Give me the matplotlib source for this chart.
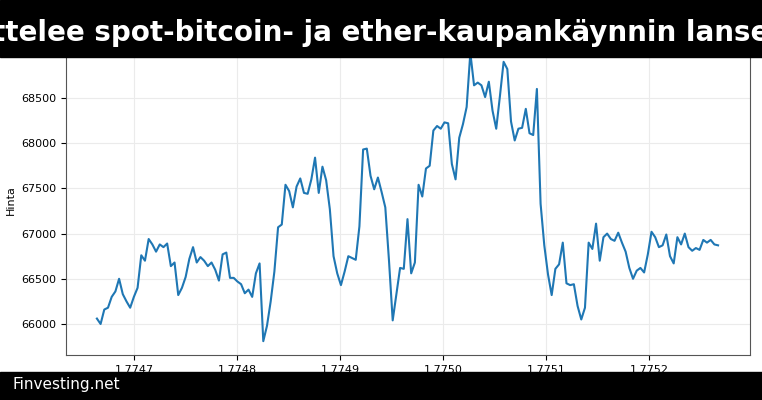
import matplotlib
matplotlib.use("Agg")
import matplotlib.pyplot as plt
import numpy as np

title = "ttelee spot-bitcoin- ja ether-kaupankäynnin lanse"
source = "Finvesting.net"
ylabel = "Hinta"
t_start, t_end = 1.774664, 1.775267
prices = [66060, 66000, 66160, 66180, 66300, 66360, 66500, 66330, 66250, 66180, 66300, 66400, 66760, 66700,
          66940, 66880, 66800, 66880, 66850, 66890, 66640, 66680, 66320, 66400, 66520, 66720, 66850, 66680,
          66740, 66700, 66640, 66680, 66600, 66480, 66770, 66790, 66510, 66510, 66470, 66440, 66340, 66380,
          66300, 66560, 66670, 65810, 65980, 66250, 66580, 67070, 67100, 67540, 67470, 67290, 67520, 67610,
          67450, 67440, 67600, 67840, 67450, 67740, 67590, 67270, 66750, 66560, 66430, 66580, 66750, 66730,
          66710, 67080, 67930, 67940, 67640, 67490, 67620, 67460, 67290, 66700, 66040, 66330, 66620, 66610,
          67160, 66560, 66680, 67540, 67410, 67720, 67750, 68140, 68190, 68160, 68230, 68220, 67770, 67600,
          68060, 68210, 68400, 69000, 68640, 68670, 68640, 68510, 68680, 68360, 68160, 68520, 68900, 68820,
          68240, 68030, 68160, 68170, 68380, 68110, 68090, 68600, 67330, 66870, 66550, 66320, 66610, 66660,
          66900, 66450, 66430, 66440, 66200, 66050, 66180, 66900, 66830, 67110, 66700, 66960, 67000, 66940,
          66920, 67010, 66900, 66800, 66620, 66500, 66590, 66620, 66570, 66770, 67020, 66960, 66850, 66870,
          66990, 66750, 66670, 66960, 66880, 67000, 66850, 66810, 66840, 66820, 66930, 66900, 66930, 66880,
          66870]
times = np.linspace(t_start, t_end, len(prices))

fig = plt.figure(figsize=(7.62, 4.0), dpi=100)
ax = fig.add_axes([66/762, 45/400, (750-66)/762, (355-45)/400])
ax.plot(times, prices, color="#1f77b4", lw=1.5)
ax.set_ylim(65657, 69086)
ax.set_xlim(1.774634, 1.775298)
ax.set_xticks([1.7747, 1.7748, 1.7749, 1.7750, 1.7751, 1.7752])
ax.set_xticklabels(["1.7747", "1.7748", "1.7749", "1.7750", "1.7751", "1.7752"])
ax.set_yticks([66000, 66500, 67000, 67500, 68000, 68500])
ax.tick_params(labelsize=8)
ax.grid(True, color="#ebebeb", lw=0.8)
ax.set_ylabel(ylabel, fontsize=8)
for s in ax.spines.values():
    s.set_color("#555555")

fig.patches.append(plt.Rectangle((0, 343/400), 1, 57/400, transform=fig.transFigure, color="black", zorder=10))
fig.patches.append(plt.Rectangle((0, 0), 1, 28/400, transform=fig.transFigure, color="black", zorder=10))
fig.text(0.5, 1 - 33/400, title, color="white", fontsize=20, fontweight="bold", ha="center", va="center", zorder=11)
fig.text(12/762, 15/400, source, color="white", fontsize=11, ha="left", va="center", zorder=11)
fig.savefig("out.png", dpi=100)
